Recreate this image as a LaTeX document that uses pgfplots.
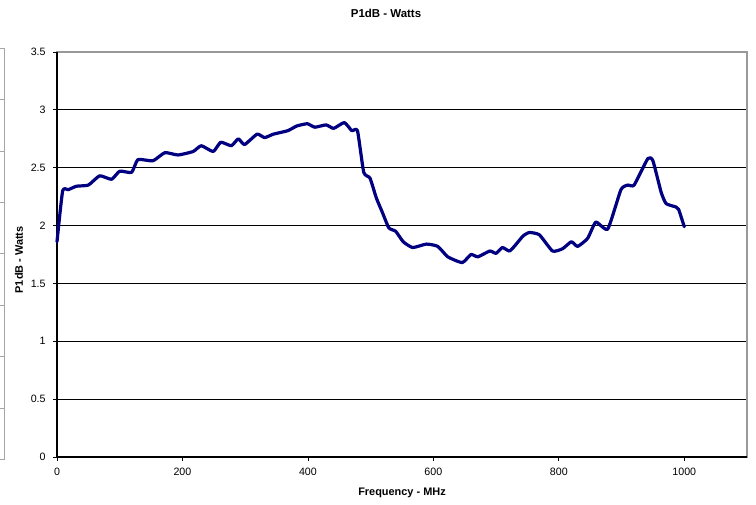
\documentclass[border=0pt]{standalone}
\usepackage{pgfplots}
\pgfplotsset{compat=1.18}
\usepackage{fontspec}
\setmainfont{Liberation Sans}
\definecolor{navy}{HTML}{000080}
\begin{document}
\begin{tikzpicture}
\useasboundingbox (-42.75pt,-36pt) rectangle (524.25pt,342.75pt);
% remnant frame at the far left
\draw[gray!70, line width=0.6pt] (-39.75pt,306.75pt) -- (-39.75pt,-2.25pt);
\foreach \k in {0,...,8} {
  \draw[gray!70, line width=0.6pt] (-42.75pt,{306.75pt-\k*38.6pt}) -- (-39.75pt,{306.75pt-\k*38.6pt});
}
\begin{axis}[
  scale only axis,
  width=517.5pt, height=303.75pt,
  xmin=0, xmax=1100, ymin=0, ymax=3.5,
  xtick={0,200,400,600,800,1000},
  ytick={0,0.5,1,1.5,2,2.5,3,3.5},
  yticklabels={0,0.5,1,1.5,2,2.5,3,3.5},
  xticklabels={0,200,400,600,800,1000},
  tick align=outside,
  major tick length=3pt,
  xtick pos=bottom, ytick pos=left,
  tick style={black, line width=0.6pt},
  axis line style={gray!80, line width=0.8pt},
  ymajorgrids,
  major grid style={black, line width=0.6pt},
  ticklabel style={font=\fontsize{8}{10}\selectfont},
  xticklabel style={yshift=-2pt},
  yticklabel style={xshift=-2pt},
  clip=false,
]
\draw[black, line width=0.8pt] (rel axis cs:0,1) -- (rel axis cs:0,0) -- (rel axis cs:1,0);
\node[font=\fontsize{8.6}{10}\selectfont\bfseries] at ([xshift=-12pt,yshift=29pt]rel axis cs:0.5,1) {P1dB - Watts};
\node[font=\fontsize{8.2}{10}\selectfont\bfseries] at ([yshift=-27pt]rel axis cs:0.5,0) {Frequency - MHz};
\node[font=\fontsize{8.2}{10}\selectfont\bfseries, rotate=90] at ([xshift=-28.5pt,yshift=-4pt]rel axis cs:0,0.5) {P1dB - Watts};
\addplot[navy, line width=2.4pt, line join=round, line cap=round, smooth, tension=0.3] coordinates {
(0,1.86) (9,2.30) (18,2.31) (31,2.34) (50,2.35) (68,2.43) (87,2.40) (100,2.47)
(119,2.46) (129,2.57) (153,2.56) (172,2.63) (193,2.61) (217,2.64) (230,2.69)
(249,2.64) (261,2.72) (278,2.69) (289,2.75) (299,2.70) (319,2.79) (331,2.76)
(345,2.79) (368,2.82) (382,2.86) (399,2.88) (411,2.85) (429,2.87) (441,2.84)
(458,2.89) (470,2.82) (479,2.82) (489,2.46) (499,2.41) (509,2.24) (519,2.11)
(529,1.98) (540,1.95) (552,1.86) (567,1.81) (589,1.84) (607,1.82) (623,1.73)
(646,1.68) (660,1.75) (671,1.73) (690,1.78) (700,1.76) (710,1.81) (721,1.78)
(729,1.82) (743,1.91) (753,1.94) (769,1.92) (790,1.78) (806,1.80) (820,1.86)
(830,1.82) (846,1.89) (859,2.03) (878,1.97) (899,2.31) (910,2.35) (920,2.35)
(942,2.58) (950,2.56) (963,2.29) (971,2.19) (987,2.16) (991,2.14) (1000,1.99)
};
\end{axis}
\end{tikzpicture}
\end{document}
